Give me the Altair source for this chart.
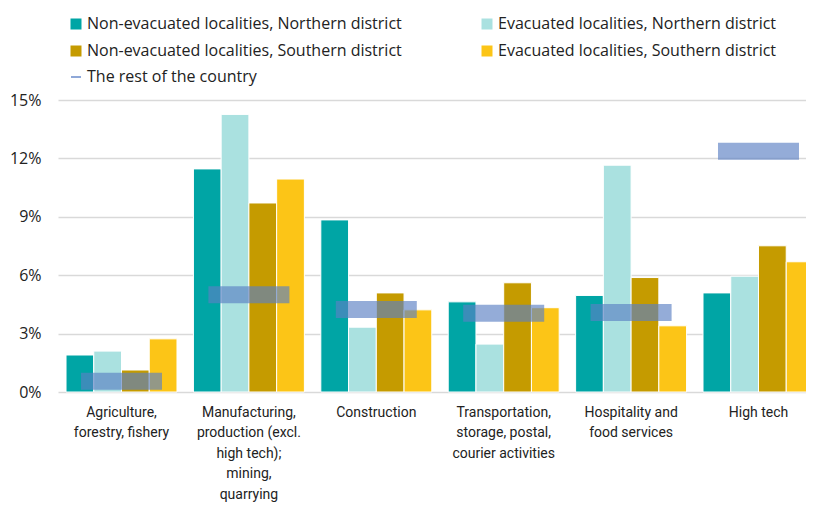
import altair as alt
import pandas as pd

categories = [
    "Agriculture,|forestry, fishery",
    "Manufacturing,|production (excl.|high tech);|mining,|quarrying",
    "Construction",
    "Transportation,|storage, postal,|courier activities",
    "Hospitality and|food services",
    "High tech",
]
series = [
    "Non-evacuated localities, Northern district",
    "Evacuated localities, Northern district",
    "Non-evacuated localities, Southern district",
    "Evacuated localities, Southern district",
]
rest_label = "The rest of the country"

nonevac_north = [1.90, 11.46, 8.84, 4.63, 4.96, 5.09]
evac_north = [2.10, 14.26, 3.33, 2.46, 11.65, 5.95]
nonevac_south = [1.13, 9.71, 5.09, 5.61, 5.88, 7.51]
evac_south = [2.73, 10.94, 4.22, 4.33, 3.40, 6.69]
rest_of_country = [0.55, 5.00, 4.24, 4.04, 4.09, 12.37]

y_ticks = [0, 3, 6, 9, 12, 15]
colors = ["#00a5a5", "#aae1e0", "#c59b00", "#fcc517"]
rest_color = "#5b80c3"

rows = []
for i, c in enumerate(categories):
    for s, vals in zip(series, [nonevac_north, evac_north, nonevac_south, evac_south]):
        rows.append({"category": c, "series": s, "value": vals[i]})
bars_df = pd.DataFrame(rows)
rest_df = pd.DataFrame({"category": categories, "series": rest_label, "value": rest_of_country})

legend_common = dict(
    title=None, orient="none", padding=0,
    labelFont="Open Sans", labelFontSize=16, labelColor="#222222",
    labelOffset=3, symbolOpacity=1, labelLimit=500,
)
bar_legend = alt.Legend(
    legendX=10, legendY=-84, columns=2, direction="horizontal",
    columnPadding=77, rowPadding=11,
    symbolSize=121, symbolType="square", symbolStrokeWidth=0, **legend_common,
)
rest_legend = alt.Legend(
    legendX=10, legendY=-31, symbolSize=100, symbolType="stroke",
    symbolStrokeColor="#8fa8d8", symbolStrokeWidth=2, **legend_common,
)

x_enc = alt.X(
    "category:N", sort=categories,
    scale=alt.Scale(paddingInner=0.129, paddingOuter=0.063, range=[0, 764]),
    axis=alt.Axis(
        title=None, labelAngle=0, domain=False, ticks=False,
        labelExpr="split(datum.label, '|')",
        labelFont="Roboto", labelFontSize=14, labelLineHeight=20.5,
        labelPadding=13, labelColor="#222222", labelLimit=300,
    ),
)
y_enc = alt.Y(
    "value:Q", scale=alt.Scale(domain=[0, 15]),
    axis=alt.Axis(
        values=y_ticks, labelExpr="datum.value + '%'", title=None, domain=False,
        ticks=False, grid=True, gridColor="#d9d9d9", gridWidth=1.6,
        labelFont="Open Sans", labelFontSize=16, labelPadding=17, labelColor="#222222",
    ),
)

bars = alt.Chart(bars_df).mark_bar(stroke="white", strokeWidth=1).encode(
    x=x_enc,
    xOffset=alt.XOffset("series:N", sort=series, scale=alt.Scale(paddingInner=0, paddingOuter=0)),
    y=y_enc,
    color=alt.Color("series:N", sort=series,
                    scale=alt.Scale(domain=series, range=colors), legend=bar_legend),
)

rest = alt.Chart(rest_df).mark_tick(size=81, thickness=17, opacity=0.65).encode(
    x=x_enc,
    y=y_enc,
    fill=alt.Fill("series:N", scale=alt.Scale(domain=[rest_label], range=[rest_color]),
                  legend=rest_legend),
)

chart = alt.layer(bars, rest).properties(
    width=748, height=292,
    autosize="none",
    padding={"left": 50, "top": 92, "right": 0, "bottom": 110},
).configure_view(stroke=None)

chart.save("out.html", embed_options={"renderer": "svg", "actions": False})
